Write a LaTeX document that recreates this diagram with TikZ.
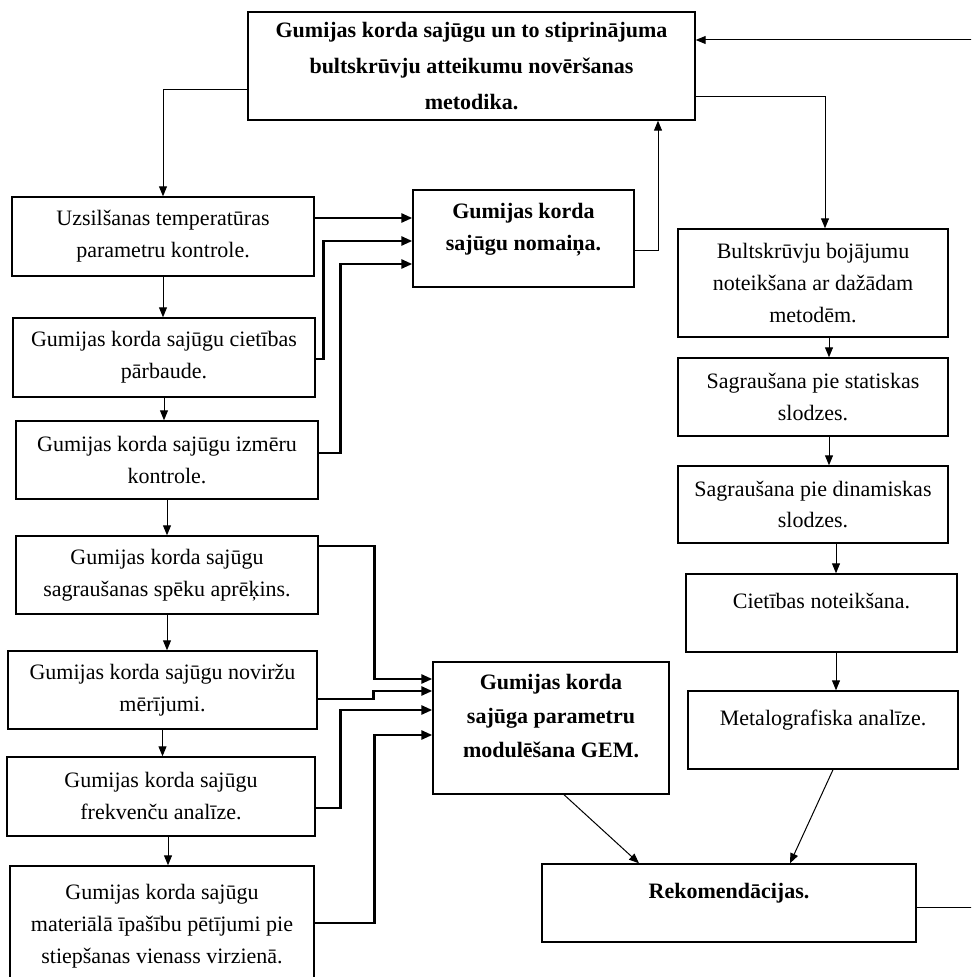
\documentclass[tikz,border=0pt]{standalone}
\usepackage{fontspec}
\setmainfont{Liberation Serif}
\usetikzlibrary{arrows.meta}

\begin{document}
\begin{tikzpicture}[x=0.5pt,y=-0.5pt,
  kaste/.style 2 args={draw, line width=0.7pt, align=center, inner sep=0pt,
    minimum width=#1, minimum height=#2, font=\fontsize{11}{16}\selectfont},
  trekns/.style={font=\bfseries\fontsize{11}{#1}\selectfont},
  bulta/.style={-{Triangle[length=5pt,width=4pt]}, line width=0.5pt},
  biezbulta/.style={-{Triangle[length=5.5pt,width=4.5pt]}, line width=1.3pt}]
  \useasboundingbox (0,0) rectangle (971,977);
  \clip (0,0) rectangle (971,977);
  % galvenais bloks
  \node[kaste={223.5pt}{54pt}, trekns=18pt] (metodika) at (471.5,66) {Gumijas korda sajūgu un to stiprinājuma\\ bultskrūvju atteikumu novēršanas\\ metodika.};
  % kreisā kolonna
  \node[kaste={151pt}{39.5pt}] (uzsil) at (163,236.5) {Uzsilšanas temperatūras\\ parametru kontrole.};
  \node[kaste={151pt}{39.5pt}] (ciet) at (164,357.5) {Gumijas korda sajūgu cietības\\ pārbaude.};
  \node[kaste={151pt}{39pt}] (izmer) at (167,460) {Gumijas korda sajūgu izmēru\\ kontrole.};
  \node[kaste={151pt}{39pt}] (sagr) at (167,575) {Gumijas korda sajūgu\\ sagraušanas spēku aprēķins.};
  \node[kaste={154.5pt}{39pt}] (novir) at (162.5,690) {Gumijas korda sajūgu noviržu\\ mērījumi.};
  \node[kaste={154pt}{39.5pt}] (frekv) at (161,796.5) {Gumijas korda sajūgu\\ frekvenču analīze.};
  \node[kaste={152pt}{60pt}] (mater) at (162,926) {Gumijas korda sajūgu\\ materiālā īpašību pētījumi pie\\ stiepšanas vienass virzienā.};
  % vidus
  \node[kaste={110.5pt}{48.5pt}, trekns=16pt] (nomaina) at (523.5,238.5) {Gumijas korda\\ sajūgu nomaiņa.\\[-4pt]\mbox{}};
  \node[kaste={118pt}{66pt}, trekns=17pt] (gem) at (551,728) {Gumijas korda\\ sajūga parametru\\ modulēšana GEM.\\[-5pt]\mbox{}};
  \node[kaste={187pt}{39pt}, trekns=16pt] (rekom) at (729,903) {Rekomendācijas.\\[-4pt]\mbox{}};
  % labā kolonna
  \node[kaste={135pt}{54pt}] (bojaj) at (813,283) {Bultskrūvju bojājumu\\ noteikšana ar dažādam\\ metodēm.};
  \node[kaste={135pt}{39pt}] (statisk) at (813,397) {Sagraušana pie statiskas\\ slodzes.};
  \node[kaste={135pt}{38.5pt}] (dinam) at (813,504.5) {Sagraušana pie dinamiskas\\ slodzes.};
  \node[kaste={135.5pt}{39pt}] (cietnot) at (821.5,613) {Cietības noteikšana.\\[-4pt]\mbox{}};
  \node[kaste={135pt}{39pt}] (metal) at (823,730) {Metalografiska analīze.\\[-4pt]\mbox{}};
  % ieejas punkti
  \coordinate (nomin1) at ([yshift=10.25pt]nomaina.west);
  \coordinate (nomin2) at ([yshift=-1.25pt]nomaina.west);
  \coordinate (nomin3) at ([yshift=-12.75pt]nomaina.west);
  \coordinate (gemin1) at ([yshift=24.5pt]gem.west);
  \coordinate (gemin2) at ([yshift=18.5pt]gem.west);
  \coordinate (gemin3) at ([yshift=9pt]gem.west);
  \coordinate (gemin4) at ([yshift=-3.5pt]gem.west);
  \coordinate (labaA) at (990,907);
  \coordinate (labaB) at (990,40);
  % savienojumi
  \draw[bulta] ([yshift=-12pt]metodika.west) -| (uzsil.north);
  \draw[bulta] ([yshift=-15.5pt]metodika.east) -| ([xshift=6pt]bojaj.north);
  \draw[bulta] ([yshift=-6.25pt]nomaina.east) -| ([xshift=93.25pt]metodika.south);
  \draw[bulta] ([yshift=-2pt]rekom.east) -- (labaA) -- (labaB) -- ([yshift=13pt]metodika.east);
  \draw[bulta] (uzsil) -- (uzsil |- ciet.north);
  \draw[bulta] (ciet) -- (ciet |- izmer.north);
  \draw[bulta] (izmer) -- (izmer |- sagr.north);
  \draw[bulta] (sagr) -- (sagr |- novir.north);
  \draw[bulta] (novir) -- (novir |- frekv.north);
  \draw[bulta] ([xshift=3.5pt]frekv.south) -- ([xshift=3pt]mater.north);
  \draw[biezbulta] ([yshift=9.25pt]uzsil.east) -- (nomin1);
  \draw[biezbulta] ([yshift=-0.75pt]ciet.east) -- ++(4pt,0) |- (nomin2);
  \draw[biezbulta] ([yshift=3.5pt]izmer.east) -- ++(11pt,0) |- (nomin3);
  \draw[biezbulta] ([yshift=14.5pt]sagr.east) -- ++(28pt,0) |- (gemin1);
  \draw[biezbulta] ([yshift=-4.5pt]novir.east) -- ++(28pt,0) |- (gemin2);
  \draw[biezbulta] ([yshift=-5.75pt]frekv.east) -- ++(12.5pt,0) |- (gemin3);
  \draw[biezbulta] ([yshift=1.5pt]mater.east) -- ++(30pt,0) |- (gemin4);
  \draw[bulta] ([xshift=8pt]bojaj.south) -- ([xshift=8pt]statisk.north);
  \draw[bulta] ([xshift=8pt]statisk.south) -- ([xshift=8pt]dinam.north);
  \draw[bulta] ([xshift=11.5pt]dinam.south) -- ([xshift=7.25pt]cietnot.north);
  \draw[bulta] ([xshift=7.25pt]cietnot.south) -- ([xshift=6.5pt]metal.north);
  \draw[bulta] ([xshift=6.5pt]gem.south) -- ([xshift=-45pt]rekom.north);
  \draw[bulta] ([xshift=5pt]metal.south) -- ([xshift=30.5pt]rekom.north);
\end{tikzpicture}
\end{document}
